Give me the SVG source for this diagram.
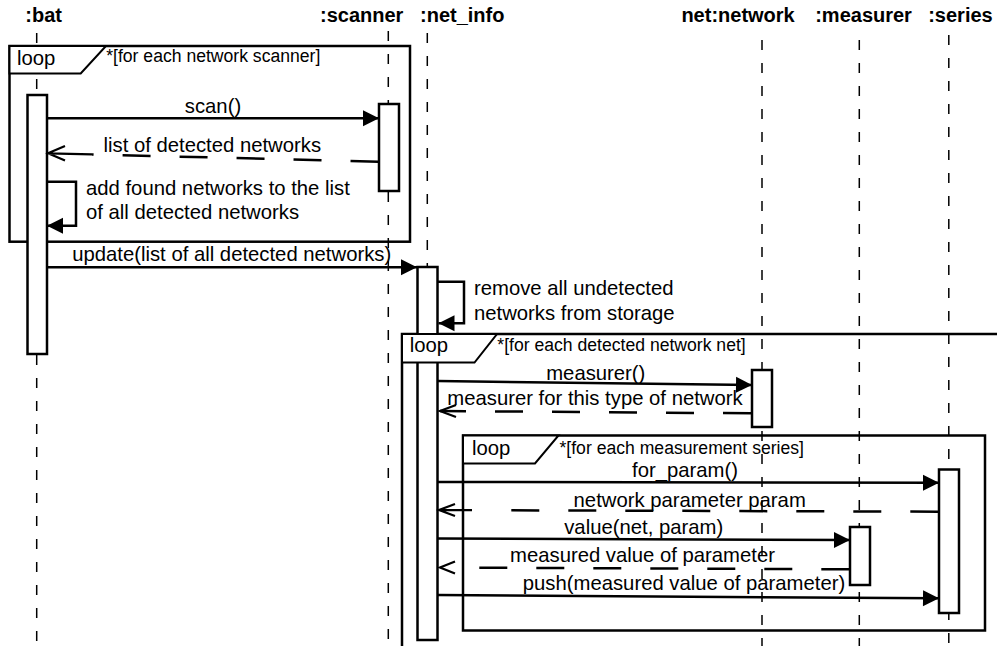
<svg xmlns="http://www.w3.org/2000/svg" width="997" height="646" viewBox="0 0 997 646">
<defs>
<style>
.life{fill:none;stroke:#000;stroke-width:1.5;stroke-dasharray:10 13}
.bar{fill:#fff;stroke:#000;stroke-width:2.5}
.frame{fill:none;stroke:#000;stroke-width:2.5}
.tab{fill:#fff;stroke:#000;stroke-width:2}
.msg{fill:none;stroke:#000;stroke-width:2.5;marker-end:url(#fa)}
.ret{fill:none;stroke:#000;stroke-width:2.5;stroke-dasharray:28 29}
.head{fill:none;stroke:#000;stroke-width:2.2}
.hdr{font-family:"Liberation Sans",Arial,sans-serif;font-weight:bold;font-size:20px;fill:#000}
.lbl{font-family:"Liberation Sans",Arial,sans-serif;font-size:20.3px;fill:#000}
.mid{text-anchor:middle}
.grd{font-family:"Liberation Sans",Arial,sans-serif;font-size:17.6px;fill:#000}
</style>
<marker id="fa" markerUnits="userSpaceOnUse" orient="auto" refX="0" refY="0" markerWidth="20" markerHeight="20" overflow="visible">
<path d="M0,0 L-16,-8 L-16,8 Z" fill="#000"/>
</marker>
</defs>
<rect width="997" height="646" fill="#fff"/>

<g id="fragment-frames">
<rect class="frame" x="9.5" y="46" width="400.5" height="195.7"/>
<path class="frame" d="M402,650 V334 H1000"/>
<rect class="frame" x="463" y="435.5" width="522" height="195"/>
</g>

<g id="bat">
<text class="hdr" x="25.3" y="22">:bat</text>
<line class="life" x1="36.7" y1="33" x2="36.7" y2="646"/>
<rect class="bar" x="27.5" y="95" width="19.5" height="259"/>
</g>
<g id="scanner">
<text class="hdr" x="320" y="22">:scanner</text>
<line class="life" x1="388.3" y1="31" x2="388.3" y2="646"/>
<rect class="bar" x="379" y="104" width="20" height="87"/>
</g>
<g id="net_info">
<text class="hdr" x="420" y="22">:net_info</text>
<line class="life" x1="427.3" y1="33" x2="427.3" y2="646"/>
<rect class="bar" x="417.5" y="267" width="20" height="373"/>
</g>
<g id="network">
<text class="hdr" x="681.4" y="22">net:network</text>
<line class="life" x1="762" y1="40" x2="762" y2="646"/>
<rect class="bar" x="752" y="370" width="20" height="57"/>
</g>
<g id="measurer">
<text class="hdr" x="815.2" y="22">:measurer</text>
<line class="life" x1="859.3" y1="40" x2="859.3" y2="646"/>
<rect class="bar" x="850" y="527" width="20" height="58"/>
</g>
<g id="series">
<text class="hdr" x="928.2" y="22">:series</text>
<line class="life" x1="948.8" y1="35" x2="948.8" y2="646"/>
<rect class="bar" x="939" y="469.5" width="20" height="143.5"/>
</g>

<g id="loop1">
<path class="tab" d="M9.5,46 H106 L80.7,73.5 H9.5 Z"/>
<text class="lbl" x="17" y="65">loop</text>
<text class="grd" x="106.2" y="62">*[for each network scanner]</text>
</g>
<g id="loop2">
<path class="tab" d="M402,334 H497 L474.5,362.5 H402 Z"/>
<text class="lbl" x="409.7" y="351.5">loop</text>
<text class="grd" x="497.3" y="350.5">*[for each detected network net]</text>
</g>
<g id="loop3">
<path class="tab" d="M463,435.5 H558.5 L535,463.5 H463 Z"/>
<text class="lbl" x="472" y="455">loop</text>
<text class="grd" x="559.5" y="453.5">*[for each measurement series]</text>
</g>

<g id="connectors">
<line class="msg" x1="47" y1="118.3" x2="379" y2="118.3"/>
<path class="ret" d="M378.5,161.7 L92,154.4"/>
<path class="head" d="M65,146 L48,153.3 L65,160.6 M48,153.3 L92,154.4"/>
<path class="msg" d="M47,181.7 H76 V225.7 H47"/>
<line class="msg" x1="47" y1="267.3" x2="417" y2="267.3"/>
<path class="msg" d="M438,281.7 H464 V323.3 H438.5"/>
<line class="msg" x1="438" y1="381" x2="752" y2="385"/>
<path class="ret" d="M751,413.3 L440,411"/>
<path class="head" d="M456,405 L440,411 L456,417"/>
<line class="msg" x1="438" y1="482" x2="939" y2="482.7"/>
<path class="ret" d="M938.3,511.7 L511.3,510.3"/>
<path class="head" d="M455,504 L439,510 L455,516 M439,510 L472,510.1"/>
<line class="msg" x1="438" y1="538.5" x2="850" y2="540"/>
<path class="ret" d="M849.3,569.3 L479.3,567.7"/>
<path class="head" d="M455,561.5 L440,567.5 L455,573.5"/>
<line class="msg" x1="438" y1="595" x2="939" y2="598.3"/>
</g>

<g id="message-labels">
<text class="lbl mid" x="213" y="113">scan()</text>
<text class="lbl mid" x="212.3" y="152">list of detected networks</text>
<text class="lbl" x="86" y="195">add found networks to the list</text>
<text class="lbl" x="86" y="219">of all detected networks</text>
<text class="lbl mid" x="231.7" y="261">update(list of all detected networks)</text>
<text class="lbl" x="474" y="295">remove all undetected</text>
<text class="lbl" x="474" y="320">networks from storage</text>
<text class="lbl mid" x="595.8" y="380">measurer()</text>
<text class="lbl mid" x="595" y="405">measurer for this type of network</text>
<text class="lbl mid" x="685" y="477">for_param()</text>
<text class="lbl mid" x="689.7" y="507">network parameter param</text>
<text class="lbl mid" x="643.7" y="534">value(net, param)</text>
<text class="lbl mid" x="642.5" y="562">measured value of parameter</text>
<text class="lbl mid" x="684" y="590">push(measured value of parameter)</text>
</g>
</svg>
